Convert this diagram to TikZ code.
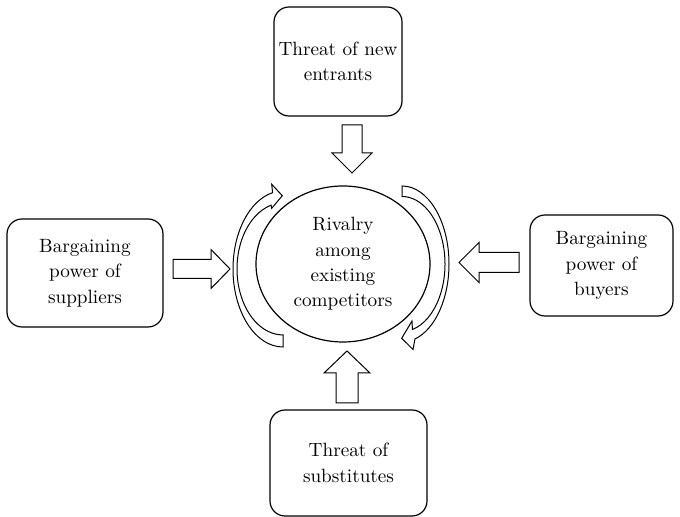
\documentclass[tikz,border=0pt]{standalone}
\usetikzlibrary{shapes.geometric}
\def\S{0.5}
\def\U{pt}
\tikzset{
    force/.style={draw, rounded corners=7.5pt, line width=0.6pt, align=center,
        inner sep=0pt, font=\fontsize{9.6}{12.7}\selectfont},
    rivalry/.style={draw, ellipse, line width=0.6pt, align=center, inner sep=0pt,
        minimum width=174*\S\U, minimum height=156*\S\U,
        font=\fontsize{9.6}{12.7}\selectfont},
    blockarrow/.style={draw, line width=0.5pt, line join=miter, fill=white},
    curvedarrow/.style={draw, line width=0.5pt, fill=white},
}
\begin{document}
\begin{tikzpicture}[x=\S\U,y=\S\U]
% work in screen pixels: origin top-left, y pointing down
\begin{scope}[shift={(0,517)}, yscale=-1]
    \useasboundingbox (0,0) rectangle (680,517);
    % the five forces
    \node[force, minimum width=128*\S\U, minimum height=109*\S\U] (entrants) at (338,61.5) {Threat of new\\entrants};
    \node[force, minimum width=156*\S\U, minimum height=108*\S\U] (suppliers) at (85,273) {Bargaining\\power of\\suppliers};
    \node[force, minimum width=143*\S\U, minimum height=101*\S\U] (buyers) at (601.5,265.5) {Bargaining\\power of\\buyers};
    \node[force, minimum width=157*\S\U, minimum height=106*\S\U] (substitutes) at (348.5,463) {Threat of\\substitutes};
    \node[rivalry] (rivalry) at (343,264) {Rivalry\\among\\existing\\competitors};
    % block arrows: tail x/tail y/direction/length/shaft/head/head length
    \foreach \ax/\ay/\rot/\len/\sw/\hw/\hl in {352/125/90/48/20/40/20,
        347/403/-90/52/22/46/22, 173/269/0/57/19/39/19, 519/262.5/180/60/20/40/20}{
        \begin{scope}[shift={(\ax,\ay)}, rotate=\rot]
            \draw[blockarrow] (0,-\sw/2) -- (\len-\hl,-\sw/2) -- (\len-\hl,-\hw/2)
                -- (\len,0) -- (\len-\hl,\hw/2) -- (\len-\hl,\sw/2) -- (0,\sw/2) -- cycle;
        \end{scope}
    }
    % curved arrows round the rivalry
    \draw[curvedarrow] (283,347) arc[start angle=90, end angle=258, x radius=50, y radius=78]
        -- (271.7,184.3) -- (282.3,195.7) -- (271.7,208.3) -- (271.1,205.2)
        arc[start angle=255, end angle=90, x radius=46, y radius=66] -- cycle;
    \draw[curvedarrow] (402,186) arc[start angle=-90, end angle=74, x radius=47, y radius=78]
        -- (413,349.5) -- (401.7,338.3) -- (412,321) -- (412.4,329.5)
        arc[start angle=76, end angle=-90, x radius=43, y radius=67.5] -- cycle;
\end{scope}
\end{tikzpicture}
\end{document}
